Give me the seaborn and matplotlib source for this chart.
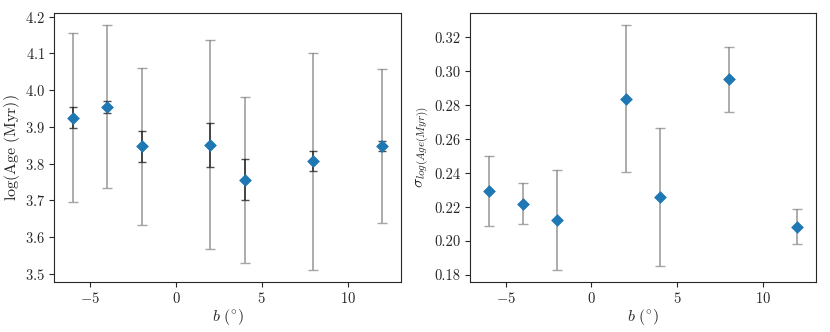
import numpy as np
import pandas as pd
import seaborn as sns
import matplotlib.pyplot as plt

# latitude bins
b = [-6, -4, -2, 2, 4, 8, 12]

# left panel: mean log age, error of the mean, spread
log_age = [3.925, 3.955, 3.847, 3.852, 3.756, 3.807, 3.848]
log_age_err = [0.029, 0.017, 0.041, 0.060, 0.056, 0.027, 0.014]

# right panel: dispersion of log age and its error
sigma = [0.2295, 0.2220, 0.2125, 0.2840, 0.2260, 0.2953, 0.2085]
sigma_err = [0.0205, 0.0122, 0.0293, 0.0432, 0.0407, 0.0190, 0.0103]

df = pd.DataFrame({'b': b, 'log_age': log_age, 'log_age_err': log_age_err,
                   'sigma': sigma, 'sigma_err': sigma_err})

sns.set_style('ticks')
plt.rcParams['font.family'] = ['cmr10', 'DejaVu Serif']
plt.rcParams['mathtext.fontset'] = 'cm'
plt.rcParams['axes.formatter.use_mathtext'] = True
plt.rcParams['axes.unicode_minus'] = True

fig = plt.figure(figsize=(8.3, 3.32), dpi=100)
ax1 = fig.add_axes([0.065, 0.151, 0.418, 0.810])
ax2 = fig.add_axes([0.566, 0.151, 0.417, 0.810])

# left: spread (gray) and error of the mean (dark)
ax1.errorbar(df['b'], df['log_age'], yerr=df['sigma'], fmt='none',
             ecolor='gray', alpha=0.7, capsize=3.5, elinewidth=1.3, capthick=1.0)
ax1.errorbar(df['b'], df['log_age'], yerr=df['log_age_err'], fmt='none',
             ecolor='#222222', alpha=0.8, capsize=3, elinewidth=1.3, capthick=1.0)
sns.scatterplot(data=df, x='b', y='log_age', marker='D', s=36, color='#1f77b4',
                edgecolor='#1f77b4', zorder=5, ax=ax1)
ax1.set_xlabel(r'$b\ (^{\circ})$', fontsize=11.5, labelpad=1)
ax1.set_ylabel(r'$\log({\rm Age\ (Myr)})$', fontsize=11.5, labelpad=2)
ax1.set_xlim(-7.1, 13.1)

# right: dispersion
ax2.errorbar(df['b'], df['sigma'], yerr=df['sigma_err'], fmt='none',
             ecolor='gray', alpha=0.7, capsize=3.5, elinewidth=1.3, capthick=1.0)
sns.scatterplot(data=df, x='b', y='sigma', marker='D', s=36, color='#1f77b4',
                edgecolor='#1f77b4', zorder=5, ax=ax2)
ax2.set_xlabel(r'$b\ (^{\circ})$', fontsize=11.5, labelpad=1)
ax2.set_ylabel(r'$\sigma_{log(Age(Myr))}$', fontsize=11.5, labelpad=2)
ax2.set_xlim(-7.1, 13.1)
ax2.yaxis.set_major_formatter(plt.FormatStrFormatter('%.2f'))

for ax in (ax1, ax2):
    ax.tick_params(labelsize=10.5, pad=3)
    for s in ax.spines.values():
        s.set_linewidth(0.8)
    ax.set_xticks([-5, 0, 5, 10])

fig.savefig('out.png', dpi=100)
